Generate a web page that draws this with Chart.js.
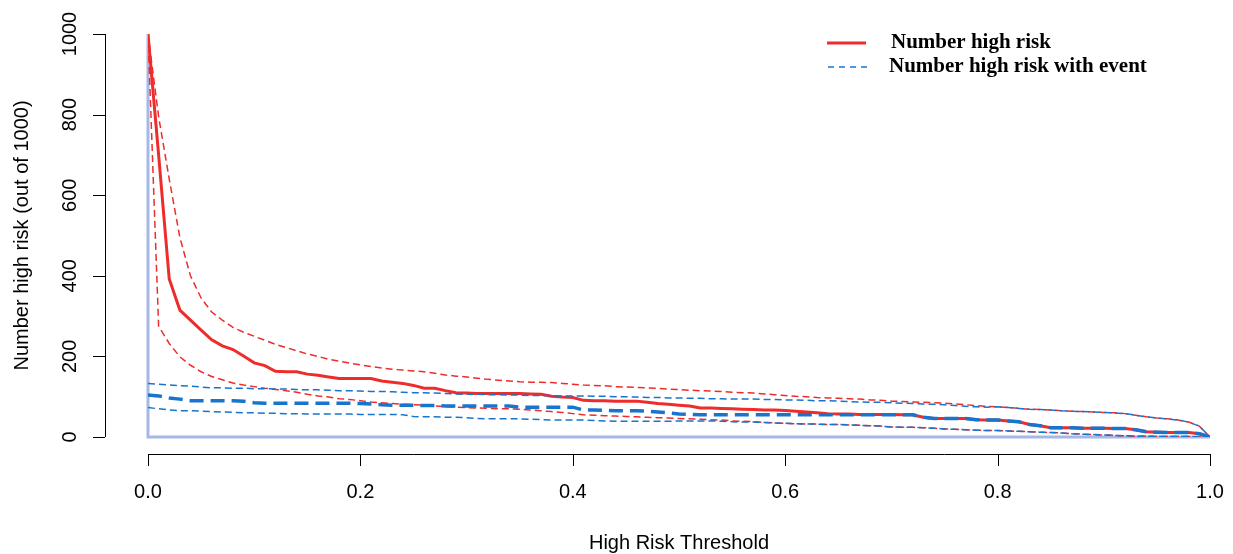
<!DOCTYPE html>
<html>
<head>
<meta charset="utf-8">
<script src="https://cdn.jsdelivr.net/npm/chart.js@4.4.0/dist/chart.umd.min.js"></script>
<style>
  body { margin: 0; background: #fff; }
  #wrap { width: 1233px; height: 554px; }
</style>
</head>
<body>
<div id="wrap"><canvas id="chart" width="1233" height="554"></canvas></div>
<script>
// risk thresholds (x)
const thresholds = [
  0.00,0.01,0.02,0.03,0.04,0.05,0.06,0.07,0.08,0.09,
  0.10,0.11,0.12,0.13,0.14,0.15,0.16,0.17,0.18,0.19,
  0.20,0.21,0.22,0.23,0.24,0.25,0.26,0.27,0.28,0.29,
  0.30,0.31,0.32,0.33,0.34,0.35,0.36,0.37,0.38,0.39,
  0.40,0.41,0.42,0.43,0.44,0.45,0.46,0.47,0.48,0.49,
  0.50,0.51,0.52,0.53,0.54,0.55,0.56,0.57,0.58,0.59,
  0.60,0.61,0.62,0.63,0.64,0.65,0.66,0.67,0.68,0.69,
  0.70,0.71,0.72,0.73,0.74,0.75,0.76,0.77,0.78,0.79,
  0.80,0.81,0.82,0.83,0.84,0.85,0.86,0.87,0.88,0.89,
  0.90,0.91,0.92,0.93,0.94,0.95,0.96,0.97,0.98,0.99,
  1.00
];

// number high risk (out of 1000) and its interval
const highRisk = [
  1000,700,392,315,290,265,241,226,217,201,
  184,177,163,162,162,156,153,149,145,145,
  145,145,139,136,133,128,121,121,115,110,
  109,108,108,108,108,108,107,106,101,99,
  98,91,90,90,89,89,89,86,83,81,
  79,77,72,72,71,70,69,68,67,67,
  66,64,62,60,58,57,57,56,56,56,
  56,55,55,49,46,46,46,46,43,42,
  42,40,38,31,28,23,23,23,22,22,
  22,21,21,18,13,12,11,11,11,8,
  0
];
const highRiskUpper = [
  1000,795,640,495,400,345,310,290,272,260,
  250,240,230,222,214,206,200,193,188,183,
  179,175,171,168,166,164,162,158,154,151,
  149,146,143,141,139,137,136,136,135,133,
  131,129,128,127,125,124,123,122,121,119,
  118,116,115,114,113,111,110,109,107,105,
  103,101,100,98,97,96,95,94,92,91,
  89,88,87,86,85,84,82,80,78,76,
  75,73,71,69,68,67,65,64,63,62,
  61,60,58,54,50,47,45,42,37,27,
  0
];
const highRiskLower = [
  1000,275,232,199,178,162,150,142,134,129,
  125,121,118,115,111,106,102,99,95,93,
  90,87,85,83,81,80,79,77,75,74,
  73,72,71,70,70,69,67,65,63,61,
  58,55,54,53,52,51,50,49,48,47,
  46,45,44,43,42,40,39,38,36,35,
  34,33,32,32,31,31,30,29,28,27,
  25,24,24,23,22,20,19,18,17,16,
  16,15,14,13,12,11,10,8,7,6,
  5,4,3,2,2,1,1,1,1,0,
  0
];

// number high risk with event and its interval
const withEvent = [
  104,102,97,94,90,90,90,90,90,89,
  85,84,84,84,84,84,84,84,84,84,
  83,82,80,79,79,79,78,78,77,77,
  77,77,77,77,77,74,74,74,74,74,
  74,67,67,66,65,65,65,64,62,60,
  57,56,55,55,55,55,55,55,55,55,
  55,55,55,55,55,55,55,55,55,55,
  55,55,55,49,46,46,46,46,43,42,
  42,40,38,31,28,23,23,23,22,22,
  22,21,21,18,13,12,11,11,11,8,
  0
];
const withEventUpper = [
  133,131,129,127,126,124,122,122,121,121,
  120,120,119,119,118,117,117,116,115,115,
  114,113,113,112,111,110,110,109,108,107,
  106,106,105,105,104,104,103,103,102,102,
  102,102,101,101,100,100,99,98,98,97,
  97,96,96,95,95,94,94,94,93,93,
  92,92,91,90,90,89,88,87,86,86,
  85,84,83,82,81,80,78,76,75,74,
  75,73,71,69,68,67,65,64,63,62,
  61,60,58,54,50,47,45,42,37,27,
  0
];
const withEventLower = [
  73,70,67,65,65,64,63,62,61,60,
  60,59,59,58,58,57,57,57,57,57,
  56,56,56,56,55,51,50,50,49,49,
  48,46,45,45,45,45,44,43,42,42,
  42,42,41,40,39,39,39,39,39,39,
  40,40,40,40,39,38,37,37,36,35,
  34,33,32,32,31,31,30,29,28,27,
  25,24,24,23,22,20,19,18,17,16,
  16,15,14,13,12,11,10,8,7,6,
  5,4,3,2,2,1,1,1,1,0,
  0
];

// light blue frame at x = 0 and y = 0
const frameX = [0, 0, 1];
const frameY = [1000, 0, 0];

const xTicks = [0, 0.2, 0.4, 0.6, 0.8, 1.0];
const xTickLabels = ["0.0", "0.2", "0.4", "0.6", "0.8", "1.0"];
const yTicks = [0, 200, 400, 600, 800, 1000];
const yTickLabels = ["0", "200", "400", "600", "800", "1000"];

const legendLabels = ["Number high risk", "Number high risk with event"];

const RED = "#ee2c2c";
const BLUE = "#1874cd";

function pts(xs, ys) {
  return xs.map((x, i) => ({ x: x, y: ys[i] }));
}

function line(label, ys, color, width, dash, order) {
  return {
    label: label,
    data: pts(thresholds, ys),
    borderColor: color,
    borderWidth: width,
    borderDash: dash,
    pointRadius: 0,
    tension: 0,
    fill: false,
    order: order
  };
}

// R style axes, drawn off the plot region
const rAxes = {
  id: "rAxes",
  afterDraw(chart) {
    const ctx = chart.ctx;
    const xs = chart.scales.x, ys = chart.scales.y;
    const axisY = 454, axisX = 105, tick = 12;
    ctx.save();
    ctx.strokeStyle = "#000";
    ctx.lineWidth = 1;
    ctx.fillStyle = "#000";
    ctx.font = '20px "Liberation Sans", Arial, sans-serif';

    // x axis
    ctx.beginPath();
    ctx.moveTo(xs.getPixelForValue(xTicks[0]), axisY + 0.5);
    ctx.lineTo(xs.getPixelForValue(xTicks[xTicks.length - 1]), axisY + 0.5);
    xTicks.forEach(v => {
      const px = Math.round(xs.getPixelForValue(v)) + 0.5;
      ctx.moveTo(px, axisY);
      ctx.lineTo(px, axisY + tick);
    });
    ctx.stroke();
    ctx.textAlign = "center";
    ctx.textBaseline = "middle";
    xTicks.forEach((v, i) => {
      ctx.fillText(xTickLabels[i], xs.getPixelForValue(v), 492);
    });
    ctx.fillText("High Risk Threshold", (chart.chartArea.left + chart.chartArea.right) / 2, 543);

    // y axis
    ctx.beginPath();
    ctx.moveTo(axisX + 0.5, ys.getPixelForValue(yTicks[0]));
    ctx.lineTo(axisX + 0.5, ys.getPixelForValue(yTicks[yTicks.length - 1]));
    yTicks.forEach(v => {
      const py = Math.round(ys.getPixelForValue(v)) + 0.5;
      ctx.moveTo(axisX, py);
      ctx.lineTo(axisX - tick, py);
    });
    ctx.stroke();
    yTicks.forEach((v, i) => {
      ctx.save();
      ctx.translate(70, ys.getPixelForValue(v));
      ctx.rotate(-Math.PI / 2);
      ctx.fillText(yTickLabels[i], 0, 0);
      ctx.restore();
    });
    ctx.save();
    ctx.translate(22, (chart.chartArea.top + chart.chartArea.bottom) / 2);
    ctx.rotate(-Math.PI / 2);
    ctx.fillText("Number high risk (out of 1000)", 0, 0);
    ctx.restore();

    // legend
    ctx.font = 'bold 21px "Liberation Serif", "Times New Roman", serif';
    ctx.textAlign = "left";
    ctx.lineCap = "butt";
    ctx.strokeStyle = RED;
    ctx.lineWidth = 3;
    ctx.beginPath();
    ctx.moveTo(827, 43);
    ctx.lineTo(866, 43);
    ctx.stroke();
    ctx.strokeStyle = BLUE;
    ctx.lineWidth = 1.5;
    ctx.setLineDash([6, 5]);
    ctx.beginPath();
    ctx.moveTo(828, 67);
    ctx.lineTo(868, 67);
    ctx.stroke();
    ctx.setLineDash([]);
    ctx.fillStyle = "#000";
    ctx.fillText(legendLabels[0], 891, 43);
    ctx.fillText(legendLabels[1], 889, 67);
    ctx.restore();
  }
};

new Chart(document.getElementById("chart"), {
  type: "line",
  data: {
    datasets: [
      line("Number high risk with event", withEvent, BLUE, 3.5, [14, 7], 1),
      line("Upper with event", withEventUpper, BLUE, 1.5, [7, 4], 2),
      line("Lower with event", withEventLower, BLUE, 1.5, [7, 4], 3),
      line("Number high risk", highRisk, RED, 3, [], 4),
      line("Upper high risk", highRiskUpper, RED, 1.5, [7, 4], 5),
      line("Lower high risk", highRiskLower, RED, 1.5, [7, 4], 6),
      {
        label: "frame",
        data: pts(frameX, frameY),
        borderColor: "#a6b8e6",
        borderWidth: 3,
        pointRadius: 0,
        tension: 0,
        fill: false,
        clip: false,
        order: 10
      }
    ]
  },
  options: {
    responsive: false,
    animation: false,
    layout: { padding: { left: 148, right: 23, top: 34, bottom: 117 } },
    plugins: { legend: { display: false }, tooltip: { enabled: false } },
    scales: {
      x: { type: "linear", min: 0, max: 1, display: false },
      y: { type: "linear", min: 0, max: 1000, display: false }
    }
  },
  plugins: [rAxes]
});
</script>
</body>
</html>
